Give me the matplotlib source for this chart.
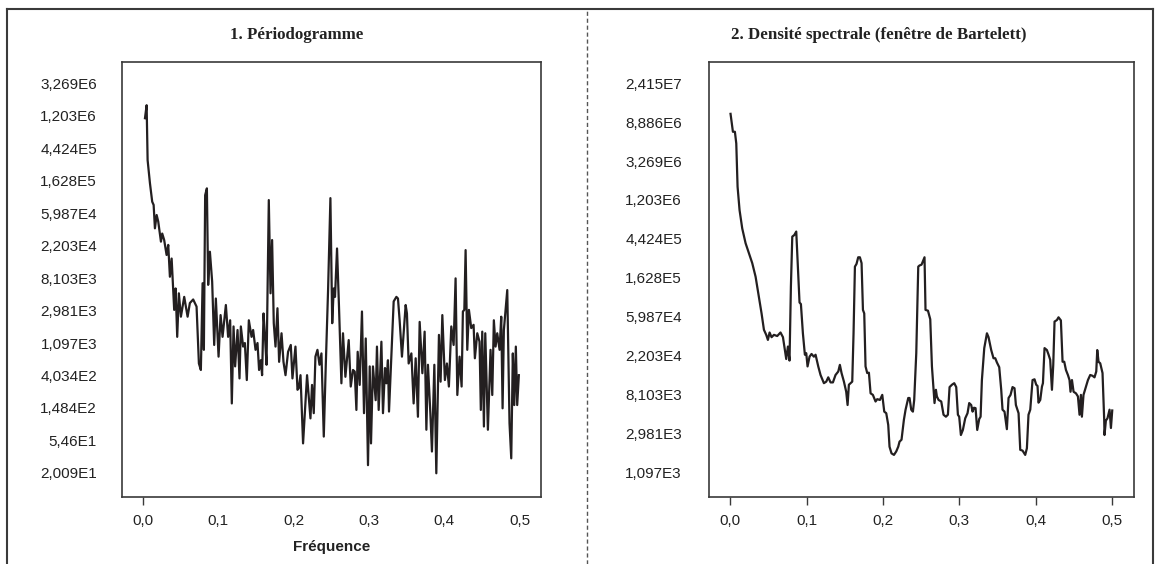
#!/usr/bin/env python3
"""Periodogram and Bartlett spectral density, log scale on e^k ticks."""

import numpy as np
import matplotlib
matplotlib.use("Agg")
import matplotlib.pyplot as plt
from matplotlib.lines import Line2D
from matplotlib.ticker import FixedLocator, FixedFormatter, NullLocator

# ---- data (natural log of the ordinates) ----
freq_periodo = [
    0.0027, 0.0049, 0.0062, 0.0093, 0.0123, 0.0142, 0.0159, 0.0182, 0.0203, 0.0239,
    0.0256, 0.0282, 0.0314, 0.0336, 0.0358, 0.0381, 0.0415, 0.0434, 0.0455, 0.0477,
    0.0504, 0.0548, 0.0593, 0.0623, 0.0667, 0.0712, 0.0743, 0.0769, 0.0792, 0.0809,
    0.0826, 0.0849, 0.0866, 0.0889, 0.0919, 0.0946, 0.0968, 0.1004, 0.1031, 0.1057,
    0.1101, 0.1131, 0.1158, 0.1180, 0.1203, 0.1224, 0.1256, 0.1282, 0.1300, 0.1330,
    0.1353, 0.1379, 0.1406, 0.1442, 0.1463, 0.1495, 0.1521, 0.1542, 0.1565, 0.1582,
    0.1601, 0.1618, 0.1641, 0.1671, 0.1694, 0.1715, 0.1737, 0.1760, 0.1786, 0.1808,
    0.1840, 0.1866, 0.1893, 0.1927, 0.1963, 0.1985, 0.2025, 0.2052, 0.2069, 0.2092,
    0.2126, 0.2179, 0.2224, 0.2245, 0.2268, 0.2290, 0.2317, 0.2344, 0.2370, 0.2401,
    0.2427, 0.2458, 0.2489, 0.2513, 0.2533, 0.2550, 0.2577, 0.2603, 0.2635, 0.2656,
    0.2688, 0.2732, 0.2759, 0.2789, 0.2812, 0.2834, 0.2851, 0.2878, 0.2908, 0.2935,
    0.2958, 0.2988, 0.3011, 0.3028, 0.3054, 0.3090, 0.3107, 0.3130, 0.3166, 0.3187,
    0.3214, 0.3232, 0.3253, 0.3267, 0.3293, 0.3329, 0.3365, 0.3386, 0.3408, 0.3439,
    0.3488, 0.3505, 0.3528, 0.3564, 0.3594, 0.3621, 0.3651, 0.3674, 0.3710, 0.3740,
    0.3763, 0.3784, 0.3816, 0.3837, 0.3869, 0.3895, 0.3930, 0.3952, 0.3975, 0.4009,
    0.4036, 0.4062, 0.4094, 0.4125, 0.4151, 0.4174, 0.4204, 0.4231, 0.4248, 0.4267,
    0.4284, 0.4306, 0.4328, 0.4359, 0.4390, 0.4407, 0.4439, 0.4469, 0.4486, 0.4505,
    0.4527, 0.4545, 0.4580, 0.4615, 0.4638, 0.4659, 0.4682, 0.4704, 0.4735, 0.4757,
    0.4775, 0.4792, 0.4837, 0.4867, 0.4890, 0.4911, 0.4930, 0.4951, 0.4969, 0.4991,
]
log_periodo = [
    13.92, 14.32, 12.63, 11.92, 11.35, 11.25, 10.53, 10.94, 10.74, 10.12,
    10.37, 10.17, 9.71, 10.02, 9.04, 9.60, 8.02, 8.68, 7.19, 8.53,
    7.81, 8.42, 7.81, 8.23, 8.34, 8.12, 6.37, 6.17, 8.84, 6.79,
    11.55, 11.76, 8.79, 9.81, 8.89, 6.94, 8.37, 6.58, 7.86, 7.19,
    8.17, 7.19, 7.70, 5.14, 7.51, 6.28, 7.40, 5.91, 7.51, 6.89,
    7.00, 5.86, 7.70, 7.19, 7.40, 6.79, 7.00, 6.17, 6.47, 6.01,
    7.91, 7.30, 6.33, 11.40, 8.53, 10.17, 7.61, 6.89, 8.07, 6.42,
    7.30, 6.42, 6.01, 6.73, 6.94, 5.91, 6.89, 5.56, 5.61, 6.01,
    3.91, 6.01, 4.68, 5.71, 4.84, 6.58, 6.79, 6.33, 6.68, 4.12,
    6.28, 8.63, 11.46, 7.61, 8.68, 8.42, 9.91, 8.12, 5.76, 7.30,
    5.96, 7.09, 5.66, 6.17, 6.12, 4.94, 6.73, 5.71, 7.97, 4.84,
    7.14, 3.24, 6.28, 3.91, 6.28, 5.24, 6.89, 4.94, 7.04, 4.84,
    6.23, 5.76, 6.47, 4.89, 6.28, 8.28, 8.42, 8.37, 7.70, 6.58,
    8.17, 7.91, 6.37, 6.68, 5.14, 6.53, 4.73, 7.65, 6.07, 7.35,
    4.33, 6.33, 4.84, 3.66, 6.33, 2.99, 7.25, 5.81, 7.86, 5.86,
    6.37, 5.66, 7.51, 6.94, 8.99, 5.40, 6.58, 5.66, 7.97, 8.02,
    9.86, 6.79, 8.02, 7.46, 7.56, 6.53, 7.30, 7.04, 4.94, 7.35,
    4.43, 7.30, 4.33, 6.79, 5.40, 7.70, 6.89, 7.30, 6.79, 7.81,
    4.99, 7.40, 8.63, 4.53, 3.45, 6.68, 5.09, 6.89, 5.09, 6.01,
]

freq_density = [
    0.0004, 0.0035, 0.0061, 0.0079, 0.0096, 0.0122, 0.0157, 0.0201, 0.0245, 0.0288,
    0.0332, 0.0375, 0.0410, 0.0441, 0.0471, 0.0493, 0.0515, 0.0541, 0.0572, 0.0615,
    0.0658, 0.0690, 0.0716, 0.0733, 0.0755, 0.0776, 0.0794, 0.0812, 0.0838, 0.0864,
    0.0890, 0.0907, 0.0925, 0.0951, 0.0977, 0.0995, 0.1012, 0.1038, 0.1064, 0.1095,
    0.1117, 0.1152, 0.1182, 0.1226, 0.1257, 0.1283, 0.1313, 0.1344, 0.1378, 0.1414,
    0.1435, 0.1457, 0.1488, 0.1518, 0.1536, 0.1553, 0.1575, 0.1597, 0.1614, 0.1632,
    0.1653, 0.1675, 0.1697, 0.1719, 0.1737, 0.1754, 0.1771, 0.1793, 0.1815, 0.1837,
    0.1867, 0.1902, 0.1924, 0.1959, 0.1990, 0.2016, 0.2042, 0.2068, 0.2085, 0.2111,
    0.2143, 0.2173, 0.2199, 0.2216, 0.2242, 0.2273, 0.2295, 0.2330, 0.2347, 0.2369,
    0.2391, 0.2408, 0.2435, 0.2461, 0.2478, 0.2504, 0.2543, 0.2556, 0.2588, 0.2618,
    0.2640, 0.2661, 0.2674, 0.2692, 0.2705, 0.2727, 0.2762, 0.2792, 0.2823, 0.2849,
    0.2871, 0.2902, 0.2932, 0.2958, 0.2980, 0.2997, 0.3019, 0.3045, 0.3076, 0.3106,
    0.3128, 0.3154, 0.3172, 0.3190, 0.3211, 0.3233, 0.3259, 0.3277, 0.3294, 0.3325,
    0.3360, 0.3381, 0.3416, 0.3446, 0.3469, 0.3491, 0.3521, 0.3547, 0.3564, 0.3590,
    0.3621, 0.3643, 0.3669, 0.3695, 0.3721, 0.3739, 0.3774, 0.3796, 0.3826, 0.3861,
    0.3883, 0.3904, 0.3927, 0.3957, 0.3983, 0.4005, 0.4022, 0.4035, 0.4058, 0.4080,
    0.4093, 0.4114, 0.4145, 0.4167, 0.4188, 0.4211, 0.4228, 0.4245, 0.4276, 0.4297,
    0.4328, 0.4350, 0.4372, 0.4394, 0.4420, 0.4441, 0.4454, 0.4473, 0.4494, 0.4525,
    0.4551, 0.4572, 0.4590, 0.4603, 0.4624, 0.4656, 0.4682, 0.4712, 0.4742, 0.4768,
    0.4791, 0.4804, 0.4821, 0.4843, 0.4873, 0.4895, 0.4899, 0.4917, 0.4938, 0.4965,
    0.4983, 0.5000,
]
log_density = [
    16.21, 15.75, 15.75, 15.45, 14.34, 13.74, 13.27, 12.89, 12.63, 12.38,
    12.03, 11.52, 11.09, 10.67, 10.54, 10.41, 10.60, 10.48, 10.54, 10.51,
    10.60, 10.48, 10.15, 9.92, 10.24, 9.88, 11.78, 13.06, 13.10, 13.19,
    12.12, 11.37, 11.33, 10.58, 10.03, 10.07, 9.73, 9.98, 10.05, 9.98,
    10.03, 9.73, 9.51, 9.30, 9.34, 9.45, 9.32, 9.32, 9.51, 9.60,
    9.77, 9.56, 9.34, 9.08, 8.74, 9.26, 9.30, 9.34, 10.58, 12.29,
    12.36, 12.53, 12.53, 12.38, 11.18, 11.09, 9.73, 9.56, 9.57, 9.04,
    9.00, 8.83, 8.89, 8.87, 9.00, 8.57, 8.53, 8.23, 7.67, 7.50,
    7.46, 7.55, 7.67, 7.80, 7.85, 8.36, 8.62, 8.92, 8.92, 8.62,
    8.57, 8.87, 10.07, 12.29, 12.32, 12.34, 12.53, 11.18, 11.16, 10.94,
    9.73, 9.13, 8.79, 9.13, 8.96, 8.87, 8.83, 8.49, 8.44, 8.49,
    9.20, 9.26, 9.30, 9.20, 8.49, 8.44, 7.97, 8.10, 8.40, 8.53,
    8.79, 8.74, 8.57, 8.67, 8.66, 8.10, 8.38, 8.44, 9.38, 10.20,
    10.58, 10.48, 10.15, 9.94, 9.94, 9.83, 9.71, 9.13, 8.62, 8.57,
    8.12, 8.92, 9.00, 9.20, 9.17, 8.74, 8.53, 7.59, 7.57, 7.46,
    7.63, 8.49, 8.62, 9.38, 9.40, 9.26, 9.23, 8.80, 8.87, 9.21,
    9.30, 10.20, 10.15, 10.03, 9.90, 9.13, 9.77, 10.88, 10.92, 10.99,
    10.91, 9.85, 9.85, 9.64, 9.51, 9.38, 9.08, 9.38, 9.08, 9.04,
    8.96, 8.49, 9.00, 8.44, 9.00, 9.21, 9.38, 9.51, 9.49, 9.45,
    9.60, 10.15, 9.85, 9.81, 9.56, 8.36, 7.97, 8.34, 8.40, 8.62,
    8.15, 8.60,
]

x_ticks = [0.0, 0.1, 0.2, 0.3, 0.4, 0.5]
x_labels = ["0,0", "0,1", "0,2", "0,3", "0,4", "0,5"]

left_exp = [15, 14, 13, 12, 11, 10, 9, 8, 7, 6, 5, 4, 3]
left_labels = ["3,269E6", "1,203E6", "4,424E5", "1,628E5", "5,987E4", "2,203E4",
               "8,103E3", "2,981E3", "1,097E3", "4,034E2", "1,484E2", "5,46E1",
               "2,009E1"]
right_exp = [17, 16, 15, 14, 13, 12, 11, 10, 9, 8, 7]
right_labels = ["2,415E7", "8,886E6", "3,269E6", "1,203E6", "4,424E5", "1,628E5",
                "5,987E4", "2,203E4", "8,103E3", "2,981E3", "1,097E3"]

LINE = "#231f20"
FRAME = "#3a3a3a"
SANS = "Liberation Sans"
SERIF = "Liberation Serif"


def style_axes(ax, exps, labels, ylim_ln, pad):
    ax.set_yscale("log")
    ax.set_ylim(np.exp(ylim_ln[0]), np.exp(ylim_ln[1]))
    ax.set_xlim(-0.0278, 0.5285)
    ax.yaxis.set_major_locator(FixedLocator(np.exp(exps)))
    ax.yaxis.set_major_formatter(FixedFormatter(labels))
    ax.yaxis.set_minor_locator(NullLocator())
    ax.set_xticks(x_ticks)
    ax.set_xticklabels(x_labels)
    ax.tick_params(axis="y", length=0, pad=pad, labelsize=11, labelcolor="#222")
    ax.tick_params(axis="x", length=6, width=1.0, color=FRAME, pad=6,
                   labelsize=11, labelcolor="#222")
    for lab in ax.get_xticklabels() + ax.get_yticklabels():
        lab.set_fontfamily(SANS)
    for sp in ax.spines.values():
        sp.set_color(FRAME)
        sp.set_linewidth(1.2)


def main():
    fig = plt.figure(figsize=(11.6, 5.64), dpi=100)

    ax1 = fig.add_axes([122 / 1160, 1 - 497 / 564, 419 / 1160, 435 / 564])
    ax2 = fig.add_axes([709 / 1160, 1 - 497 / 564, 425 / 1160, 435 / 564])

    ax1.plot(freq_periodo, np.exp(log_periodo), color=LINE, linewidth=1.6)
    ax2.plot(freq_density, np.exp(log_density), color=LINE, linewidth=1.6)

    style_axes(ax1, left_exp, left_labels, (2.26, 15.65), 18)
    style_axes(ax2, right_exp, right_labels, (6.38, 17.54), 19.5)

    # left panel shows a tick mark only at 0,0
    for t in ax1.xaxis.get_major_ticks()[1:]:
        t.tick1line.set_visible(False)

    ax1.set_xlabel("Fréquence", fontfamily=SANS, fontweight="bold",
                   fontsize=11, labelpad=9, color="#222")

    fig.text(297 / 1160, 1 - 35 / 564, "1. Périodogramme", ha="center",
             va="center", fontfamily=SERIF, fontweight="bold", fontsize=12.2,
             color="#222")
    fig.text(879 / 1160, 1 - 35 / 564, "2. Densité spectrale (fenêtre de Bartelett)",
             ha="center", va="center", fontfamily=SERIF, fontweight="bold",
             fontsize=12.2, color="#222")

    # outer frame and dashed divider
    frame_kw = dict(color=FRAME, linewidth=1.5, transform=fig.transFigure)
    fig.add_artist(Line2D([7 / 1160, 1153 / 1160], [1 - 9 / 564, 1 - 9 / 564], **frame_kw))
    fig.add_artist(Line2D([7 / 1160, 7 / 1160], [0, 1 - 9 / 564], **frame_kw))
    fig.add_artist(Line2D([1153 / 1160, 1153 / 1160], [0, 1 - 9 / 564], **frame_kw))
    fig.add_artist(Line2D([587 / 1160, 587 / 1160], [0, 1 - 9 / 564], color="#555",
                          linewidth=1.0, linestyle=(0, (3, 2)),
                          transform=fig.transFigure))

    fig.savefig("out.png", dpi=100, facecolor="white")


if __name__ == "__main__":
    main()
